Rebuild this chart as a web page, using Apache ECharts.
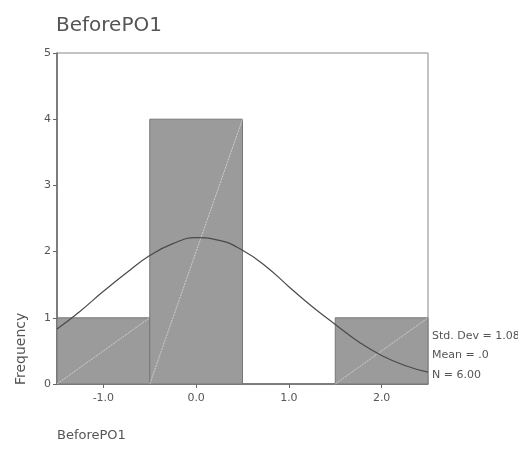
<!DOCTYPE html>
<html><head><meta charset="utf-8">
<script src="https://cdn.jsdelivr.net/npm/echarts@6/dist/echarts.min.js"></script>
<style>html,body{margin:0;padding:0;background:#fff}#c{width:518px;height:449px}</style>
</head><body><div id="c"></div>
<script>
var binStart = [-1.5, -0.5, 0.5, 1.5];
var binEnd = [-0.5, 0.5, 1.5, 2.5];
var frequency = [1, 4, 0, 1];
var curveX = [-1.5, -1.25, -1.0, -0.75, -0.5, -0.25, 0.0, 0.25, 0.5, 0.75, 1.0, 1.25, 1.5, 1.75, 2.0, 2.25, 2.5];
var curveY = [0.83, 1.10, 1.40, 1.68, 1.94, 2.12, 2.21, 2.17, 2.02, 1.78, 1.47, 1.17, 0.90, 0.64, 0.43, 0.28, 0.18];
var xTicks = [-1, 0, 1, 2];
var xTickLabels = ['-1.0', '0.0', '1.0', '2.0'];
var stats = ['Std. Dev = 1.08', 'Mean = .0', 'N = 6.00'];
var titleText = 'BeforePO1';
var xName = 'BeforePO1';
var yName = 'Frequency';

var FONT = 'DejaVu Sans';
var chart = echarts.init(document.getElementById('c'), null, {renderer: 'canvas'});
var barData = binStart.map(function (s, i) { return [s, binEnd[i], frequency[i]]; });
var lineData = curveX.map(function (x, i) { return [x, curveY[i]]; });

chart.setOption({
  animation: false,
  backgroundColor: '#ffffff',
  title: {text: titleText, left: 51, top: 11, textStyle: {fontFamily: FONT, fontSize: 20, fontWeight: 'normal', color: '#555'}},
  grid: {left: 57, right: 90, top: 53, bottom: 65, containLabel: false, outerBoundsMode: 'none', show: true, borderColor: '#888', borderWidth: 1, backgroundColor: 'transparent'},
  xAxis: {
    type: 'value', min: -1.5, max: 2.5,
    axisLine: {show: true, onZero: false, lineStyle: {color: '#666', width: 1.5}},
    axisTick: {show: true, length: 4, customValues: xTicks, lineStyle: {color: '#666'}},
    axisLabel: {customValues: xTicks, formatter: function (v) { return xTickLabels[xTicks.indexOf(Math.round(v))]; }, fontFamily: FONT, fontSize: 11, color: '#555', margin: 9},
    splitLine: {show: false}
  },
  yAxis: {
    type: 'value', min: 0, max: 5, interval: 1,
    axisLine: {show: true, onZero: false, lineStyle: {color: '#666', width: 1.5}},
    axisTick: {show: true, length: 4, lineStyle: {color: '#666'}},
    axisLabel: {fontFamily: FONT, fontSize: 11, color: '#555', margin: 6},
    splitLine: {show: false}
  },
  series: [
    {
      type: 'custom',
      data: barData,
      renderItem: function (params, api) {
        if (api.value(2) <= 0) return null;
        var p0 = api.coord([api.value(0), 0]);
        var p1 = api.coord([api.value(1), api.value(2)]);
        return {type: 'group', children: [
          {type: 'rect', shape: {x: p0[0], y: p1[1], width: p1[0] - p0[0], height: p0[1] - p1[1]},
           style: {fill: '#9b9b9b', stroke: '#777', lineWidth: 1}},
          {type: 'line', shape: {x1: p0[0], y1: p0[1], x2: p1[0], y2: p1[1]},
           style: {stroke: 'rgba(235,235,235,0.8)', lineWidth: 0.8, lineDash: [2, 1]}}
        ]};
      },
      z: 2
    },
    {
      type: 'line', data: lineData, smooth: true, showSymbol: false,
      lineStyle: {color: '#4a4a4a', width: 1.2}, z: 3
    }
  ],
  graphic: [
    {type: 'text', x: 21, y: 385, rotation: Math.PI / 2, style: {text: yName, font: '14px "DejaVu Sans"', fill: '#555', align: 'left', verticalAlign: 'middle'}},
    {type: 'text', left: 57, top: 429, style: {text: xName, font: '13px "DejaVu Sans"', fill: '#555'}},
    {type: 'text', left: 432, top: 326, style: {text: stats.join('\n'), font: '11px "DejaVu Sans"', fill: '#555', lineHeight: 19.5}}
  ]
});
</script></body></html>
